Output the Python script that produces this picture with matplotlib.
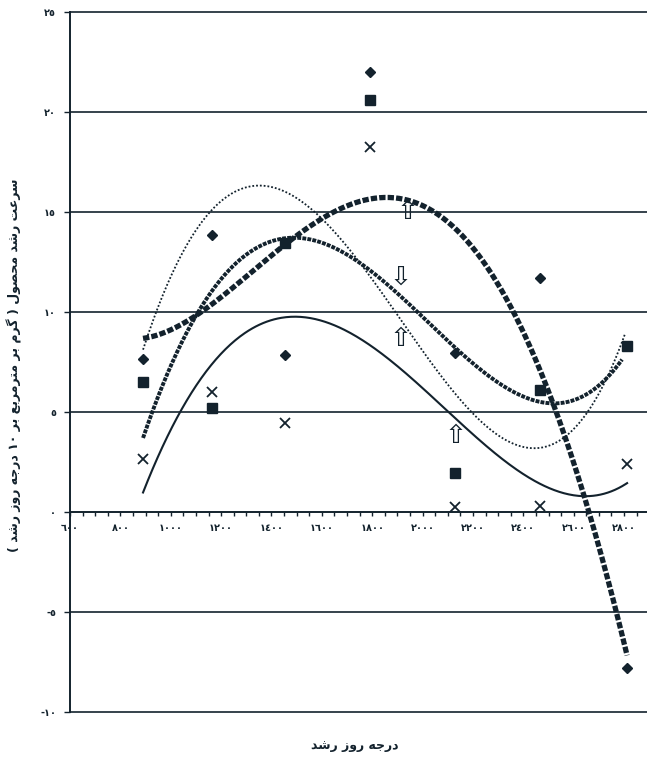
import numpy as np
import matplotlib
matplotlib.use('Agg')
import matplotlib.pyplot as plt
from matplotlib.ticker import FixedLocator, FixedFormatter, MultipleLocator

INK = '#13222d'

# ---------------- data ----------------
# sampling points (growing degree days)
gdd = [890, 1165, 1455, 1790, 2130, 2465, 2810]
diamond_vals = [7.65, 13.85, 7.85, 22.0, 7.95, 11.7, -7.8]
square_vals = [6.5, 5.2, 13.45, 20.6, 1.95, 6.1, 8.3]
cross_vals = [2.65, 6.0, 4.45, 18.25, 0.25, 0.3, 2.4]

# trend curves
curveA_x = [890, 1104, 1275, 1593, 1871, 2109, 2308, 2467, 2645, 2812]
curveA_y = [8.6, 9.95, 11.7, 14.25, 15.75, 14.5, 11.35, 7.35, 0.0, -6.9]
curveB_x = [890, 1029, 1104, 1275, 1454, 1513, 1712, 1911, 2129, 2308, 2526, 2705, 2792]
curveB_y = [3.7, 8.1, 9.95, 12.5, 13.75, 13.7, 12.7, 11.1, 7.95, 6.35, 5.6, 6.35, 7.6]
curveC_x = [890, 969, 1065, 1144, 1235, 1355, 1513, 1633, 1772, 1911, 2069, 2189, 2308, 2459, 2586, 2705, 2804]
curveC_y = [8.35, 10.75, 12.95, 14.95, 15.95, 16.35, 15.75, 14.2, 12.3, 9.6, 6.5, 4.95, 4.0, 3.35, 3.9, 6.1, 8.85]
curveD_x = [890, 997, 1029, 1116, 1223, 1303, 1513, 1633, 1911, 2109, 2308, 2506, 2677, 2812]
curveD_y = [1.1, 3.6, 4.95, 6.95, 8.1, 8.85, 9.75, 9.6, 7.2, 4.85, 2.6, 1.25, 0.95, 1.35]

# hollow arrows
arrow_x = [1942, 1911, 1911, 2129]
arrow_y = [15.0, 11.7, 8.65, 3.8]
arrow_dir = ['up', 'down', 'up', 'up']

x_ticks = list(range(600, 3000, 200))
y_ticks = [-10, -5, 0, 5, 10, 15, 20, 25]

x_title = 'درجه روز رشد'
y_title = 'سرعت رشد محصول ( گرم بر مترمربع بر ١٠ درجه روز رشد )'

# ---------------- Persian shaping helpers ----------------
FORMS = {
    'ا': (0xFE8D, 0xFE8E, None, None),
    'ب': (0xFE8F, 0xFE90, 0xFE91, 0xFE92),
    'ت': (0xFE95, 0xFE96, 0xFE97, 0xFE98),
    'ج': (0xFE9D, 0xFE9E, 0xFE9F, 0xFEA0),
    'ح': (0xFEA1, 0xFEA2, 0xFEA3, 0xFEA4),
    'د': (0xFEA9, 0xFEAA, None, None),
    'ر': (0xFEAD, 0xFEAE, None, None),
    'ز': (0xFEAF, 0xFEB0, None, None),
    'س': (0xFEB1, 0xFEB2, 0xFEB3, 0xFEB4),
    'ش': (0xFEB5, 0xFEB6, 0xFEB7, 0xFEB8),
    'ص': (0xFEB9, 0xFEBA, 0xFEBB, 0xFEBC),
    'ع': (0xFEC9, 0xFECA, 0xFECB, 0xFECC),
    'ل': (0xFEDD, 0xFEDE, 0xFEDF, 0xFEE0),
    'م': (0xFEE1, 0xFEE2, 0xFEE3, 0xFEE4),
    'ه': (0xFEE9, 0xFEEA, 0xFEEB, 0xFEEC),
    'و': (0xFEED, 0xFEEE, None, None),
    'گ': (0xFB92, 0xFB93, 0xFB94, 0xFB95),
    'ک': (0xFB8E, 0xFB8F, 0xFB90, 0xFB91),
    'ی': (0xFBFC, 0xFBFD, 0xFBFE, 0xFBFF),
}


def shape(text):
    out = []
    n = len(text)
    for i, ch in enumerate(text):
        if ch not in FORMS:
            out.append(ch)
            continue
        prev = text[i - 1] if i > 0 else ''
        nxt = text[i + 1] if i < n - 1 else ''
        join_prev = prev in FORMS and FORMS[prev][2] is not None
        join_next = nxt in FORMS and FORMS[ch][2] is not None
        iso, fin, ini, med = FORMS[ch]
        if join_prev and join_next:
            cp = med
        elif join_prev:
            cp = fin
        elif join_next:
            cp = ini
        else:
            cp = iso
        out.append(chr(cp))
    # visual order: reverse, keep digit runs LTR, mirror brackets
    rev = out[::-1]
    mirror = {'(': ')', ')': '('}
    rev = [mirror.get(c, c) for c in rev]
    res = []
    run = []
    for c in rev:
        if c.isdigit():
            run.append(c)
        else:
            if run:
                res.extend(run[::-1])
                run = []
            res.append(c)
    if run:
        res.extend(run[::-1])
    return ''.join(res)


AR_DIGITS = str.maketrans('0123456789', '٠١٢٣٤٥٦٧٨٩')


def ar_num(v):
    return str(v).translate(AR_DIGITS)


# ---------------- figure ----------------
W, H = 647, 758
fig = plt.figure(figsize=(W / 100, H / 100), dpi=100)
fig.patch.set_facecolor('white')
ax = fig.add_axes([70 / W, 46 / H, 577 / W, 700 / H])
ax.set_xlim(600, 2891)
ax.set_ylim(-10, 25)

# grid lines
for yv in y_ticks:
    ax.axhline(yv, color=INK, lw=1.2, zorder=1, clip_on=False)

# spines
for s in ['top', 'right']:
    ax.spines[s].set_visible(False)
ax.spines['left'].set_color(INK)
ax.spines['left'].set_linewidth(1.4)
ax.spines['bottom'].set_position(('data', 0))
ax.spines['bottom'].set_color(INK)
ax.spines['bottom'].set_linewidth(1.2)

ax.xaxis.set_major_locator(FixedLocator(x_ticks))
ax.xaxis.set_major_formatter(FixedFormatter([ar_num(v) for v in x_ticks]))
ax.xaxis.set_minor_locator(MultipleLocator(50))
ax.tick_params(axis='x', which='both', direction='out', length=3, width=1,
               color=INK, labelsize=7, labelcolor=INK, pad=5)
for lab in ax.get_xticklabels():
    lab.set_fontweight('bold')

ax.yaxis.set_major_locator(FixedLocator(y_ticks))
ax.yaxis.set_major_formatter(FixedFormatter([ar_num(v) for v in y_ticks]))
ax.tick_params(axis='y', which='major', direction='out', length=4, width=1,
               color=INK, labelsize=7, labelcolor=INK, pad=6)
for lab in ax.get_yticklabels():
    lab.set_fontweight('bold')


# trend curves
def draw_curve(xs, ys, deg, **kw):
    coef = np.polyfit(xs, ys, deg)
    xx = np.linspace(min(xs), max(xs), 400)
    ax.plot(xx, np.polyval(coef, xx), **kw)


draw_curve(curveD_x, curveD_y, 4, color=INK, lw=1.5, zorder=3)
draw_curve(curveC_x, curveC_y, 4, color=INK, lw=1.3, linestyle=(0, (1, 1.1)), zorder=3)
draw_curve(curveB_x, curveB_y, 4, color=INK, lw=2.8, linestyle=(0, (1, 0.3)),
           dash_capstyle='butt', zorder=4)
draw_curve(curveA_x, curveA_y, 4, color=INK, lw=3.8, linestyle=(0, (1.2, 0.4)),
           dash_capstyle='butt', zorder=4)

# markers
ax.plot(gdd, diamond_vals, linestyle='none', marker='D', ms=5.5, color=INK, zorder=5)
ax.plot(gdd, square_vals, linestyle='none', marker='s', ms=6.5, color=INK, zorder=5)
ax.plot(gdd, cross_vals, linestyle='none', marker='x', ms=7, mew=1.3, color=INK, zorder=5)

# hollow arrows
for xa, ya, d in zip(arrow_x, arrow_y, arrow_dir):
    ax.text(xa, ya, '⇧' if d == 'up' else '⇩', ha='center', va='center',
            fontsize=19, color=INK, zorder=6)

# titles
fig.text(355 / W, 1 - 745 / H, shape(x_title), ha='center', va='center',
         fontsize=9, fontweight='bold', color=INK)
fig.text(14 / W, 1 - 365 / H, shape(y_title), ha='center', va='center',
         rotation=90, fontsize=9, fontweight='bold', color=INK)

fig.savefig('out.png', dpi=100, facecolor='white')
